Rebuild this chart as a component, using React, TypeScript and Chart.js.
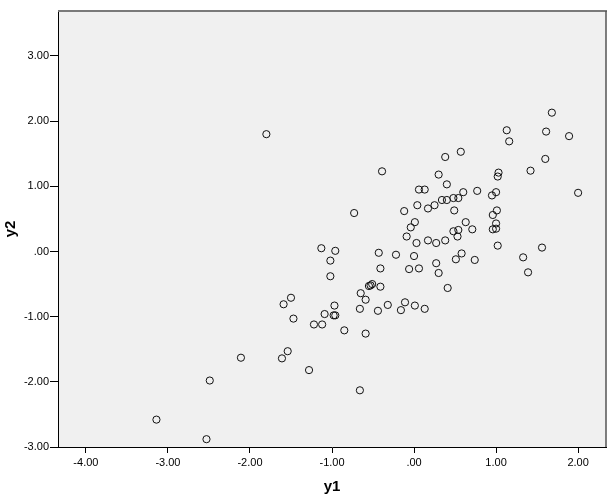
import React, { useEffect, useRef } from "react";
import { Chart, registerables } from "chart.js";

Chart.register(...registerables);

const y1Values: number[] = [
  -1.80, 1.68, 1.13, 1.61, 1.89, 1.16, 0.57, 0.38, 1.60, -0.39,
  1.42, 0.30, 1.03, 1.02, 0.40, 0.06, 0.13, 1.00, 0.77, 0.60,
  2.00, 0.95, 0.48, 0.54, 0.34, 0.40, 0.04, 0.25, 0.17, -0.73,
  -0.12, 0.49, 1.01, 0.96, 0.01, 0.63, 1.00, -0.04, 0.71, 0.54,
  0.48, 0.96, 1.00, -0.09, 0.53, 0.03, 0.17, 0.38, 0.27, 1.02,
  1.56, -1.13, -0.96, -0.43, -0.22, 0.58, 0.00, 1.33, 0.51, 0.74,
  -1.02, 0.27, -0.41, -0.06, 0.06, 0.30, 1.39, -1.02, -0.51, -0.53,
  -0.55, -0.41, 0.41, -0.65, -1.50, -0.59, -0.11, -1.59, -0.97, -0.32,
  0.01, -0.66, 0.13, -0.44, -0.16, -1.09, -0.98, -0.96, -1.47, -1.22,
  -1.12, -0.85, -0.59, -1.54, -2.11, -1.61, -1.28, -2.49, -0.66, -3.14,
  -2.53,
];

const y2Values: number[] = [
  1.80, 2.13, 1.86, 1.84, 1.77, 1.69, 1.53, 1.45, 1.42, 1.23,
  1.24, 1.18, 1.21, 1.15, 1.03, 0.95, 0.95, 0.91, 0.93, 0.91,
  0.90, 0.86, 0.82, 0.82, 0.79, 0.79, 0.71, 0.71, 0.66, 0.59,
  0.62, 0.63, 0.63, 0.56, 0.45, 0.45, 0.43, 0.37, 0.34, 0.33,
  0.31, 0.34, 0.35, 0.23, 0.23, 0.13, 0.17, 0.17, 0.13, 0.09,
  0.06, 0.05, 0.01, -0.02, -0.05, -0.03, -0.07, -0.09, -0.12, -0.13,
  -0.14, -0.18, -0.26, -0.27, -0.26, -0.33, -0.32, -0.38, -0.50, -0.52,
  -0.53, -0.54, -0.56, -0.64, -0.71, -0.74, -0.78, -0.81, -0.83, -0.82,
  -0.83, -0.88, -0.88, -0.91, -0.90, -0.96, -0.98, -0.98, -1.03, -1.12,
  -1.12, -1.21, -1.26, -1.53, -1.63, -1.64, -1.82, -1.98, -2.13, -2.58,
  -2.88,
];

const xTicks: number[] = [-4, -3, -2, -1, 0, 1, 2];
const yTicks: number[] = [-3, -2, -1, 0, 1, 2, 3];
const xTitle = "y1";
const yTitle = "y2";

function fmt(v: number): string {
  const s = Math.abs(v).toFixed(2).replace(/^0\./, ".");
  return (v < -1e-9 ? "-" : "") + s;
}

const FONT = "'Liberation Sans', Arial, sans-serif";

const framePlugin = {
  id: "frame",
  beforeDraw(chart: any) {
    const { ctx, chartArea: a } = chart;
    ctx.save();
    ctx.fillStyle = "#f0f0f0";
    ctx.fillRect(a.left, a.top, a.right - a.left, a.bottom - a.top);
    ctx.restore();
  },
  afterDraw(chart: any) {
    const { ctx, chartArea: a } = chart;
    ctx.save();
    ctx.strokeStyle = "#7a7a7a";
    ctx.lineWidth = 2;
    ctx.beginPath();
    ctx.moveTo(a.left, a.top);
    ctx.lineTo(a.right + 1, a.top);
    ctx.stroke();
    ctx.strokeStyle = "#555555";
    ctx.lineWidth = 1.5;
    ctx.beginPath();
    ctx.moveTo(a.right, a.top);
    ctx.lineTo(a.right, a.bottom);
    ctx.stroke();
    // axis titles
    ctx.fillStyle = "#000";
    ctx.font = `bold 15px ${FONT}`;
    ctx.textAlign = "center";
    ctx.textBaseline = "middle";
    ctx.fillText(xTitle, (a.left + a.right) / 2, a.bottom + 40);
    ctx.translate(11, (a.top + a.bottom) / 2);
    ctx.rotate(-Math.PI / 2);
    ctx.fillText(yTitle, 0, 0);
    ctx.restore();
  },
};

export default function App() {
  const ref = useRef<HTMLCanvasElement | null>(null);
  useEffect(() => {
    if (!ref.current) return;
    const points = y1Values.map((x, i) => ({ x, y: y2Values[i] }));
    const chart = new Chart(ref.current, {
      type: "scatter",
      data: {
        datasets: [
          {
            data: points,
            pointStyle: "circle",
            pointRadius: 3.6,
            pointBorderWidth: 1,
            pointBorderColor: "#111111",
            pointBackgroundColor: "rgba(0,0,0,0)",
            pointHoverRadius: 3.6,
          },
        ],
      },
      options: {
        responsive: false,
        animation: false,
        events: [],
        layout: { padding: { top: 11, right: 8, left: 0, bottom: 0 } },
        plugins: {
          legend: { display: false },
          tooltip: { enabled: false },
        },
        scales: {
          x: {
            type: "linear",
            min: -4.34,
            max: 2.34,
            afterBuildTicks: (s: any) => {
              s.ticks = xTicks.map((v) => ({ value: v }));
            },
            afterFit: (s: any) => {
              s.height = 52;
            },
            grid: {
              drawOnChartArea: false,
              drawTicks: true,
              tickLength: 6,
              color: "#000",
              lineWidth: 1,
            },
            border: { display: true, color: "#000", width: 1 },
            ticks: {
              padding: 3,
              color: "#000",
              font: { family: FONT, size: 11 },
              callback: (v: any) => fmt(Number(v)),
              maxRotation: 0,
            },
          },
          y: {
            type: "linear",
            min: -3,
            max: 3.69,
            afterBuildTicks: (s: any) => {
              s.ticks = yTicks.map((v) => ({ value: v }));
            },
            afterFit: (s: any) => {
              s.width = 58;
            },
            grid: {
              drawOnChartArea: false,
              drawTicks: true,
              tickLength: 8,
              color: "#000",
              lineWidth: 1,
            },
            border: { display: true, color: "#000", width: 1 },
            ticks: {
              padding: 1,
              color: "#000",
              font: { family: FONT, size: 11 },
              callback: (v: any) => fmt(Number(v)),
            },
          },
        },
      },
      plugins: [framePlugin],
    });
    return () => chart.destroy();
  }, []);
  return (
    <div style={{ position: "fixed", left: 0, top: 0, width: 614, height: 499, background: "#fff" }}>
      <canvas ref={ref} width={614} height={499} style={{ display: "block" }} />
    </div>
  );
}
